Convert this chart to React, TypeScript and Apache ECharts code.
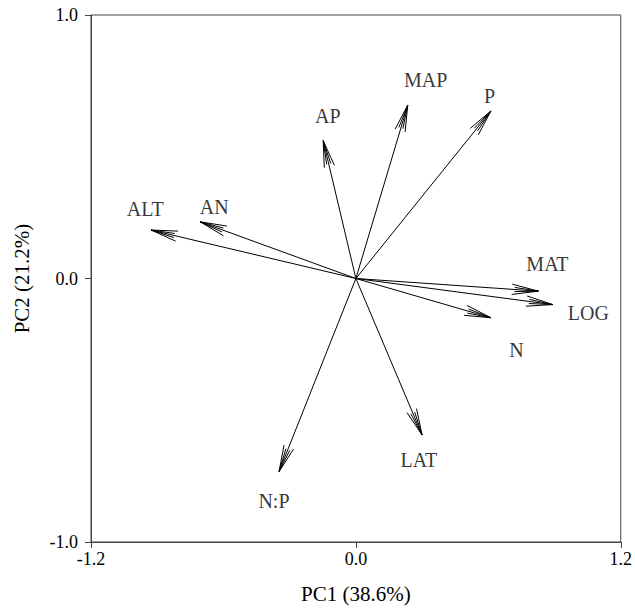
import React, { useEffect, useRef } from "react";
import * as echarts from "echarts";

const variables = ["ALT", "AN", "AP", "MAP", "P", "MAT", "LOG", "N", "LAT", "N:P"];
const pc1 = [-0.928, -0.705, -0.148, 0.235, 0.612, 0.827, 0.892, 0.612, 0.3, -0.348];
const pc2 = [0.184, 0.215, 0.523, 0.658, 0.636, -0.048, -0.099, -0.149, -0.594, -0.733];
// label anchor points (layout, in data units)
const labelX = [-0.954, -0.642, -0.127, 0.316, 0.606, 0.868, 1.053, 0.728, 0.285, -0.371];
const labelY = [0.262, 0.273, 0.617, 0.755, 0.691, 0.055, -0.13, -0.27, -0.688, -0.846];
const xTicks = [-1.2, 0, 1.2];
const yTicks = [-1, 0, 1];

const FONT = "'Liberation Serif', 'Times New Roman', serif";

export default function App() {
  const ref = useRef<HTMLDivElement>(null);
  useEffect(() => {
    const chart = echarts.init(ref.current!, null, { renderer: "svg" });
    const arrowData = variables.map((v, i) => [pc1[i], pc2[i], v]);
    const labelData = variables.map((v, i) => ({ value: [labelX[i], labelY[i]], name: v }));
    chart.setOption({
      animation: false,
      backgroundColor: "#fff",
      textStyle: { fontFamily: FONT },
      grid: {
        left: 91,
        right: 12,
        top: 15,
        bottom: 63,
        show: true,
        borderColor: "#444",
        borderWidth: 1,
        backgroundColor: "transparent",
      },
      xAxis: {
        type: "value",
        min: xTicks[0],
        max: xTicks[xTicks.length - 1],
        interval: 1.2,
        name: "PC1 (38.6%)",
        nameLocation: "middle",
        nameGap: 41,
        nameTextStyle: { fontFamily: FONT, fontSize: 21, color: "#000" },
        axisLine: { show: true, onZero: false, lineStyle: { color: "#444", width: 1 } },
        axisTick: { show: true, inside: false, length: 6, lineStyle: { color: "#444" } },
        axisLabel: {
          fontFamily: FONT,
          fontSize: 18,
          color: "#000",
          margin: 8,
          formatter: (v: number) => v.toFixed(1),
        },
        splitLine: { show: false },
      },
      yAxis: {
        type: "value",
        min: yTicks[0],
        max: yTicks[yTicks.length - 1],
        interval: 1,
        name: "PC2 (21.2%)",
        nameLocation: "middle",
        nameGap: 59,
        nameRotate: 90,
        nameTextStyle: { fontFamily: FONT, fontSize: 21, color: "#000" },
        axisLine: { show: true, onZero: false, lineStyle: { color: "#444", width: 1 } },
        axisTick: { show: true, inside: false, length: 6, lineStyle: { color: "#444" } },
        axisLabel: {
          fontFamily: FONT,
          fontSize: 18,
          color: "#000",
          margin: 13,
          formatter: (v: number) => v.toFixed(1),
        },
        splitLine: { show: false },
      },
      series: [
        {
          type: "custom",
          data: arrowData,
          renderItem: (params: any, api: any) => {
            const o = api.coord([0, 0]);
            const t = api.coord([api.value(0), api.value(1)]);
            const ang = Math.atan2(o[1] - t[1], o[0] - t[0]);
            const arm = (len: number, deg: number) => {
              const a = ang + (deg * Math.PI) / 180;
              return [t[0] + len * Math.cos(a), t[1] + len * Math.sin(a)];
            };
            const style = { stroke: "#000", lineWidth: 1, fill: null };
            const children: any[] = [
              { type: "line", shape: { x1: o[0], y1: o[1], x2: t[0], y2: t[1] }, style },
            ];
            [11, -11, 5, -5].forEach((d) => {
              const len = Math.abs(d) === 11 ? 27 : 24;
              const p = arm(len, d);
              children.push({
                type: "line",
                shape: { x1: t[0], y1: t[1], x2: p[0], y2: p[1] },
                style,
              });
            });
            return { type: "group", children };
          },
          silent: true,
          z: 3,
        },
        {
          type: "scatter",
          data: labelData,
          symbolSize: 0,
          silent: true,
          label: {
            show: true,
            position: "inside",
            formatter: (p: any) => p.name,
            fontFamily: FONT,
            fontSize: 20,
            color: "#000",
          },
          z: 4,
        },
      ],
    });
    return () => chart.dispose();
  }, []);
  return <div ref={ref} style={{ width: 635, height: 609, position: "absolute", left: 0, top: 0 }} />;
}
